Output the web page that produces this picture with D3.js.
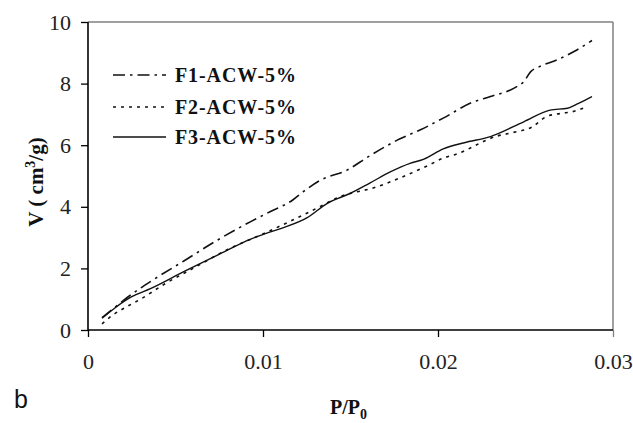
<!DOCTYPE html>
<html>
<head>
<meta charset="utf-8">
<script src="https://cdn.jsdelivr.net/npm/d3@7"></script>
<style>
  html, body { margin: 0; padding: 0; background: #fff; }
  svg { display: block; }
</style>
</head>
<body>
<svg id="chart" width="633" height="423"></svg>
<script>
// Nitrogen uptake, V (cm3/g) versus relative pressure P/P0
const f1P = [0.0008, 0.0015, 0.0023, 0.0037, 0.0055, 0.0074, 0.0093, 0.0104, 0.0117, 0.0123, 0.0133, 0.0148, 0.0160, 0.0178, 0.0190, 0.0203, 0.0220, 0.0230, 0.0245, 0.0249, 0.0253, 0.0258, 0.0268, 0.0278, 0.0288];
const f1V = [0.40, 0.72, 1.08, 1.62, 2.25, 2.92, 3.52, 3.84, 4.22, 4.49, 4.87, 5.19, 5.62, 6.20, 6.50, 6.88, 7.40, 7.58, 7.90, 8.06, 8.39, 8.55, 8.77, 9.05, 9.40];

const f2P = [0.0008, 0.0014, 0.0021, 0.0030, 0.0044, 0.0060, 0.0080, 0.0100, 0.0117, 0.0131, 0.0145, 0.0154, 0.0161, 0.0178, 0.0195, 0.0203, 0.0210, 0.0234, 0.0241, 0.0254, 0.0262, 0.0270, 0.0277, 0.0285];
const f2V = [0.20, 0.48, 0.72, 1.00, 1.50, 2.00, 2.62, 3.12, 3.57, 3.96, 4.35, 4.49, 4.58, 4.93, 5.36, 5.58, 5.70, 6.30, 6.39, 6.60, 6.93, 7.03, 7.09, 7.25];

const f3P = [0.0008, 0.0015, 0.0025, 0.0036, 0.0055, 0.0074, 0.0093, 0.0101, 0.0111, 0.0125, 0.0137, 0.0150, 0.0161, 0.0173, 0.0184, 0.0192, 0.0203, 0.0215, 0.0230, 0.0249, 0.0264, 0.0274, 0.0280, 0.0288];
const f3V = [0.38, 0.70, 1.08, 1.35, 1.90, 2.43, 2.95, 3.12, 3.31, 3.64, 4.12, 4.44, 4.77, 5.14, 5.41, 5.55, 5.88, 6.08, 6.28, 6.76, 7.14, 7.20, 7.35, 7.58];

const seriesNames = ["F1-ACW-5%", "F2-ACW-5%", "F3-ACW-5%"];
const xTicks = [0, 0.01, 0.02, 0.03];
const xTickLabels = ["0", "0.01", "0.02", "0.03"];
const yTicks = [0, 2, 4, 6, 8, 10];

const series = [
  { name: seriesNames[0], P: f1P, V: f1V, dash: "12,5,2.5,5", width: 1.6 },
  { name: seriesNames[1], P: f2P, V: f2V, dash: "3,5", width: 1.6 },
  { name: seriesNames[2], P: f3P, V: f3V, dash: null, width: 1.4 }
];

const svg = d3.select("#chart");
const serif = "'Liberation Serif', 'Times New Roman', serif";

const x = d3.scaleLinear().domain([0, 0.03]).range([88, 613]);
const y = d3.scaleLinear().domain([0, 10]).range([330, 22]);

// Frame: light top and right edges
svg.append("line").attr("x1", x(0)).attr("x2", x(0.03)).attr("y1", y(10)).attr("y2", y(10))
  .attr("stroke", "#808080").attr("stroke-width", 1.5);
svg.append("line").attr("x1", x(0.03)).attr("x2", x(0.03)).attr("y1", y(10)).attr("y2", y(0))
  .attr("stroke", "#808080").attr("stroke-width", 1.5);

// Axes
const xAxis = svg.append("g").attr("transform", `translate(0,${y(0)})`)
  .call(d3.axisBottom(x).tickValues(xTicks).tickFormat((d, i) => xTickLabels[i]).tickSize(7).tickPadding(16));
const yAxis = svg.append("g").attr("transform", `translate(${x(0)},0)`)
  .call(d3.axisLeft(y).tickValues(yTicks).tickFormat(d3.format("d")).tickSize(7).tickPadding(10));

[xAxis, yAxis].forEach(g => {
  g.attr("font-family", serif).attr("font-size", 22);
  g.select(".domain").attr("stroke", "#000").attr("stroke-width", 1.6);
  g.selectAll(".tick line").attr("stroke", "#000").attr("stroke-width", 1.3);
  g.selectAll(".tick text").attr("fill", "#222");
});
xAxis.select(".domain").attr("d", `M${x(0)},0H${x(0.03)}`);
yAxis.select(".domain").attr("d", `M0,${y(10)}V${y(0)}`);
xAxis.selectAll(".tick").filter(d => d === 0.03).select("line").attr("stroke", "#808080");

// Curves
const line = d3.line().x(d => x(d[0])).y(d => y(d[1])).curve(d3.curveMonotoneX);
series.forEach(s => {
  svg.append("path")
    .datum(s.P.map((p, i) => [p, s.V[i]]))
    .attr("d", line)
    .attr("fill", "none")
    .attr("stroke", "#111")
    .attr("stroke-width", s.width)
    .attr("stroke-dasharray", s.dash);
});

// Legend
const legendRows = [75, 107, 137];
series.forEach((s, i) => {
  svg.append("line")
    .attr("x1", 113).attr("x2", 166)
    .attr("y1", legendRows[i]).attr("y2", legendRows[i])
    .attr("stroke", "#111").attr("stroke-width", s.width)
    .attr("stroke-dasharray", s.dash);
  svg.append("text")
    .attr("x", 175).attr("y", legendRows[i] + 7)
    .style("font-family", serif).style("font-weight", "bold").style("font-size", "20px")
    .style("letter-spacing", "0.9px")
    .attr("fill", "#111")
    .text(s.name);
});

// Axis titles
const yTitle = svg.append("text")
  .attr("transform", "translate(43,182) rotate(-90)")
  .attr("text-anchor", "middle")
  .style("font-family", serif).style("font-weight", "bold").style("font-size", "21px")
  .attr("fill", "#111");
yTitle.append("tspan").text("V ( cm");
yTitle.append("tspan").attr("dy", -8).style("font-size", "14px").text("3");
yTitle.append("tspan").attr("dy", 8).text("/g)");

const xTitle = svg.append("text")
  .attr("x", 330).attr("y", 414)
  .style("font-family", serif).style("font-weight", "bold").style("font-size", "20px")
  .attr("fill", "#111");
xTitle.append("tspan").text("P/P");
xTitle.append("tspan").attr("dy", 5).style("font-size", "14px").text("0");

// Panel letter
svg.append("text")
  .attr("x", 14).attr("y", 408)
  .style("font-family", "'Liberation Sans', Arial, sans-serif").style("font-size", "25px")
  .attr("fill", "#111")
  .text("b");
</script>
</body>
</html>
